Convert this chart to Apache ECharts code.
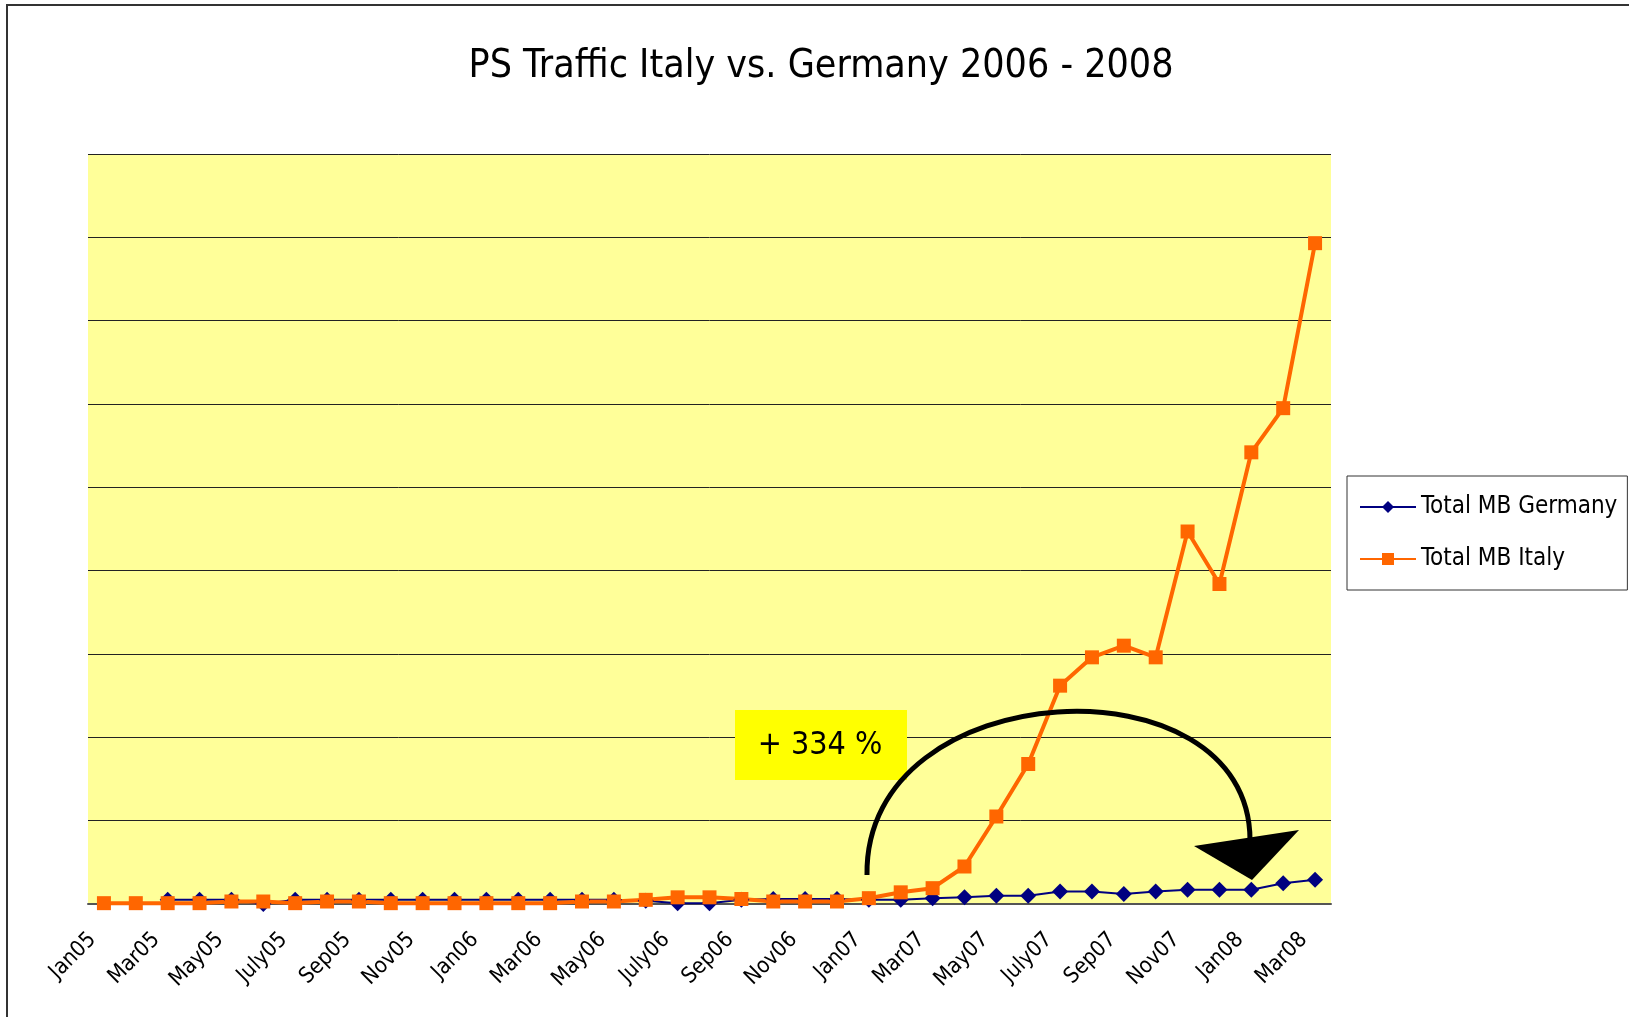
<!DOCTYPE html>
<html>
<head>
<meta charset="utf-8">
<title>PS Traffic Italy vs. Germany</title>
<script src="https://cdn.jsdelivr.net/npm/echarts@6/dist/echarts.min.js"></script>
<style>
  html, body { margin: 0; padding: 0; background: #fff; }
  #chart { width: 1629px; height: 1017px; }
</style>
</head>
<body>
<div id="chart"></div>
<script>
// months Jan05 .. Mar08
var months = ['Jan05','Feb05','Mar05','Apr05','May05','Jun05','July05','Aug05','Sep05','Oct05','Nov05','Dec05',
  'Jan06','Feb06','Mar06','Apr06','May06','Jun06','July06','Aug06','Sep06','Oct06','Nov06','Dec06',
  'Jan07','Feb07','Mar07','Apr07','May07','Jun07','July07','Aug07','Sep07','Oct07','Nov07','Dec07',
  'Jan08','Feb08','Mar08'];

// values (no y scale shown, one grid step = 100)
var germany = ['-','-',5,5,5,0,5,5,5,5,5,5,5,5,5,5,5,4,1,1,5,6,6,6,5,5,7,8,10,10,15,15,12,15,17,17,17,25,29];
var italy = [1,1,1,1,3,3,1,3,3,1,1,1,1,1,1,3,3,5,8,8,6,3,3,3,7,14,19,45,105,168,262,296,310,296,447,384,542,595,793];

var seriesNames = ['Total MB Germany', 'Total MB Italy'];
var yTicks = [0, 900, 100]; // min, max, interval

var narrow = "'Liberation Sans Narrow', 'DejaVu Sans Condensed', sans-serif";

var chart = echarts.init(document.getElementById('chart'));

chart.setOption({
  animation: false,
  backgroundColor: '#fff',
  title: {
    text: 'PS Traffic Italy vs. Germany 2006 - 2008',
    left: 821,
    top: 47,
    padding: 0,
    textAlign: 'center',
    textStyle: {
      fontFamily: narrow,
      fontSize: 39,
      fontWeight: 'normal',
      color: '#000'
    }
  },
  legend: {
    orient: 'vertical',
    left: 1347,
    top: 476,
    padding: [19, 10, 19, 12],
    itemGap: 28,
    itemWidth: 56,
    itemHeight: 15,
    backgroundColor: '#fff',
    borderColor: '#333',
    borderWidth: 1,
    textStyle: {
      fontFamily: narrow,
      fontSize: 24,
      color: '#000'
    },
    data: seriesNames
  },
  grid: {
    left: 88,
    top: 154,
    right: 298,
    bottom: 113,
    show: true,
    backgroundColor: '#FFFF99',
    borderWidth: 0
  },
  xAxis: {
    type: 'category',
    data: months,
    boundaryGap: true,
    axisLine: { lineStyle: { color: '#555', width: 2 } },
    axisTick: { interval: 0, length: 6, lineStyle: { color: '#777' } },
    axisLabel: {
      interval: 1,
      rotate: 45,
      margin: 21,
      padding: [0, 16, 0, 0],
      fontFamily: narrow,
      fontSize: 22,
      color: '#000'
    }
  },
  yAxis: {
    type: 'value',
    min: yTicks[0],
    max: yTicks[1],
    interval: yTicks[2],
    axisLine: { show: false },
    axisTick: { show: false },
    axisLabel: { show: false },
    splitLine: { lineStyle: { color: '#222', width: 1 } }
  },
  series: [
    {
      name: seriesNames[0],
      type: 'line',
      data: germany,
      symbol: 'diamond',
      symbolSize: 16,
      lineStyle: { color: '#000080', width: 2 },
      itemStyle: { color: '#000080' }
    },
    {
      name: seriesNames[1],
      type: 'line',
      data: italy,
      symbol: 'rect',
      symbolSize: 14,
      lineStyle: { color: '#FF6600', width: 4 },
      itemStyle: { color: '#FF6600' }
    }
  ],
  graphic: [
    {
      // outer chart frame (runs off the page right and bottom)
      type: 'rect',
      shape: { x: 7, y: 5, width: 1700, height: 1100 },
      style: { fill: null, stroke: '#333', lineWidth: 2 },
      silent: true
    },
    {
      type: 'rect',
      shape: { x: 735, y: 710, width: 172, height: 70 },
      style: { fill: '#FFFF00' },
      z: 10
    },
    {
      type: 'text',
      x: 820,
      y: 746,
      style: {
        text: '+ 334 %',
        font: "32px 'Liberation Sans Narrow', 'DejaVu Sans Condensed', sans-serif",
        fill: '#000',
        align: 'center',
        verticalAlign: 'middle'
      },
      z: 11
    },
    {
      type: 'bezierCurve',
      shape: { x1: 867, y1: 875, cpx1: 864, cpy1: 672, cpx2: 1250, cpy2: 655, x2: 1250, y2: 840 },
      style: { stroke: '#000', lineWidth: 5, fill: null },
      z: 10
    },
    {
      type: 'polygon',
      shape: { points: [[1194, 846], [1299, 830], [1252, 880]] },
      style: { fill: '#000' },
      z: 10
    }
  ]
});
</script>
</body>
</html>
